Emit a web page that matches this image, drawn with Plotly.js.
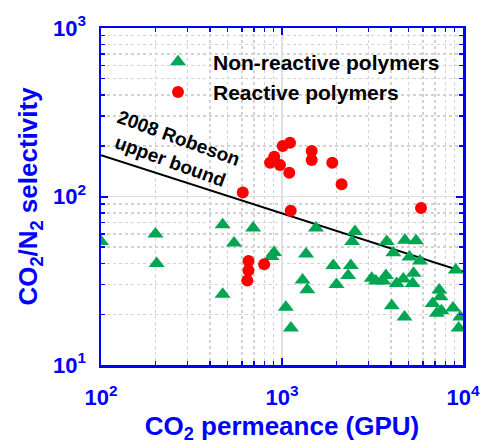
<!DOCTYPE html>
<html>
<head>
<meta charset="utf-8">
<script src="https://cdn.plot.ly/plotly-3.0.1.min.js"></script>
<style>
  html, body { margin: 0; padding: 0; background: #fff; }
  #chart { width: 482px; height: 448px; }
</style>
</head>
<body>
<div id="chart"></div>
<script>
// CO2 permeance (GPU) and CO2/N2 selectivity of membrane polymers
const nonReactivePerm = [100, 200, 203, 470, 543, 693, 470, 903, 875, 1358, 1540, 1050, 1120,
  1300, 1380, 1920, 2000, 2400, 2320, 2440, 2530, 3130, 3300, 3750, 3630, 3790, 4120, 4040,
  4300, 4680, 4780, 5060, 4750, 5270, 5330, 5500, 5780, 6800, 7400, 7510, 7160, 7600, 8810,
  9120, 9660, 9460];
const nonReactiveSel = [54, 60, 40, 68, 53, 65, 26.3, 46.5, 44, 45.6, 65, 22, 16.6,
  32, 28, 39, 30, 39, 34, 54, 62, 32.7, 31.5, 34, 31.5, 54, 46.4, 22.5,
  30.5, 32.4, 55, 43.7, 19.3, 30.5, 35, 54.6, 41.4, 23.2, 27.9, 25.4, 20.3, 21, 21.8,
  36.6, 19.3, 16.6];

const reactivePerm = [607, 859, 906, 975, 1009, 1107, 1097, 1459, 1459, 1896, 2134, 1117,
  5862, 653, 653, 643, 797];
const reactiveSel = [105.7, 158.7, 172, 153.8, 199.5, 208.5, 138.4, 186.4, 164.8, 158.7,
  118.1, 82.4, 85.5, 41.4, 36.4, 31.7, 39.6];

// 2008 Robeson upper bound end points
const boundPerm = [100, 10000];
const boundSel = [176, 35.8];

const xTickVals = [100, 1000, 10000];
const xTickText = ['10<sup>2</sup>', '10<sup>3</sup>', '10<sup>4</sup>'];
const yTickVals = [10, 100, 1000];
const yTickText = ['10<sup>1</sup>', '10<sup>2</sup>', '10<sup>3</sup>'];

const BLUE = '#0000FF';
const FONT = 'Liberation Sans, Arial, sans-serif';

function minorDecades(lo, hi) {
  const out = [];
  for (let d = lo; d < hi; d *= 10) {
    for (let k = 2; k <= 9; k++) out.push(k * d);
  }
  return out;
}

function axisStyle(tickVals, tickText, minorVals, standoff) {
  return {
    type: 'log',
    tickmode: 'array',
    tickvals: tickVals,
    ticktext: tickText,
    ticks: 'inside',
    ticklen: 7,
    tickwidth: 2,
    tickcolor: BLUE,
    ticklabelstandoff: standoff,
    tickfont: { family: FONT, size: 22, color: BLUE, weight: 'bold' },
    showline: true,
    linecolor: BLUE,
    linewidth: 2.5,
    mirror: 'ticks',
    showgrid: true,
    gridcolor: '#e0e0e0',
    gridwidth: 1.5,
    zeroline: false,
    minor: {
      tickmode: 'array',
      tickvals: minorVals,
      ticks: 'inside',
      ticklen: 4,
      tickwidth: 1.5,
      tickcolor: BLUE,
      showgrid: true,
      gridcolor: '#d2d2d2',
      gridwidth: 1.5,
      griddash: 'dot'
    }
  };
}

const traces = [
  {
    x: boundPerm, y: boundSel,
    mode: 'lines',
    line: { color: '#000', width: 2 },
    showlegend: false,
    hoverinfo: 'skip'
  },
  {
    x: nonReactivePerm, y: nonReactiveSel,
    name: 'Non-reactive polymers',
    mode: 'markers',
    marker: { symbol: 'triangle-up', size: 14, color: '#00A651' }
  },
  {
    x: reactivePerm, y: reactiveSel,
    name: 'Reactive polymers',
    mode: 'markers',
    marker: { symbol: 'circle', size: 12, color: '#FF0000' }
  }
];

const xAxis = axisStyle(xTickVals, xTickText, minorDecades(100, 10000), 11);
xAxis.range = [2, 4];
xAxis.title = {
  text: 'CO<sub>2</sub> permeance (GPU)',
  font: { family: FONT, size: 26, color: BLUE, weight: 'bold' },
  standoff: 8
};

const yAxis = axisStyle(yTickVals, yTickText, minorDecades(10, 1000), 8);
yAxis.range = [1, 3];
yAxis.title = {
  text: 'CO<sub>2</sub>/N<sub>2</sub> selectivity',
  font: { family: FONT, size: 26, color: BLUE, weight: 'bold' },
  standoff: 8
};

const layout = {
  width: 482,
  height: 448,
  margin: { l: 101, r: 19, t: 28, b: 83 },
  paper_bgcolor: '#fff',
  plot_bgcolor: '#fff',
  xaxis: xAxis,
  yaxis: yAxis,
  showlegend: true,
  legend: {
    x: 0.116, y: 0.96,
    xanchor: 'left', yanchor: 'top',
    bgcolor: 'rgba(0,0,0,0)',
    borderwidth: 0,
    itemwidth: 60,
    font: { family: FONT, size: 21, color: '#000', weight: 'bold' }
  },
  annotations: [{
    xref: 'paper', yref: 'paper',
    x: 0.204, y: 0.638,
    xanchor: 'center', yanchor: 'middle',
    text: '2008 Robeson<br>upper bound',
    showarrow: false,
    textangle: 20,
    align: 'center',
    font: { family: FONT, size: 19, color: '#000', weight: 'bold' }
  }]
};

Plotly.newPlot('chart', traces, layout, { staticPlot: true, displayModeBar: false });
</script>
</body>
</html>
